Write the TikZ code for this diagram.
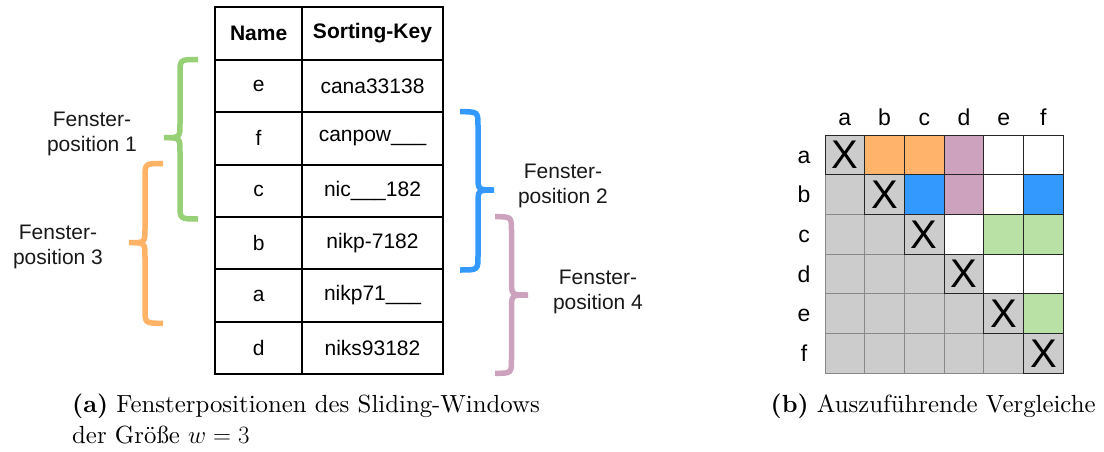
\documentclass[tikz,border=0pt]{standalone}
\usepackage{fontspec}
\newfontfamily\arial{Liberation Sans}
\newfontfamily\capfont{lmroman10-regular}[Extension=.otf, BoldFont=lmroman10-bold]
\definecolor{bGreen}{HTML}{97D077}
\definecolor{bOrange}{HTML}{FFB366}
\definecolor{bBlue}{HTML}{3399FF}
\definecolor{bPink}{HTML}{CDA2BE}
\definecolor{cOrange}{HTML}{FFB36B}
\definecolor{cGreen}{HTML}{B9E0A5}
\definecolor{cGray}{HTML}{CCCCCC}
\definecolor{gridGray}{HTML}{888888}

% curly window brace: colour, x of ends, x of spine, x of tip, y top, y tip, y bottom
\newcommand{\windowbrace}[7]{%
  \draw[wbrace, draw=#1] (#2,#5) .. controls (#3,#5) .. (#3,#5+14)
    -- (#3,#6-14) .. controls (#3,#6) .. (#4,#6)
    .. controls (#3,#6) .. (#3,#6+14)
    -- (#3,#7-14) .. controls (#3,#7) .. (#2,#7);}

\begin{document}
\begin{tikzpicture}[x=1pt,y=-1pt,
  tcell/.style={draw=black, line width=2pt, inner sep=0pt, outer sep=0pt,
    minimum height=52.4pt, font=\arial\fontsize{21}{24}\selectfont},
  namecol/.style={tcell, minimum width=87.3pt},
  keycol/.style={tcell, minimum width=140.4pt},
  head/.style={font=\arial\bfseries\fontsize{21}{24}\selectfont},
  winlabel/.style={align=center, inner sep=0pt, text=black!90,
    font=\arial\fontsize{21}{24.5}\selectfont},
  wbrace/.style={line width=5.5pt, line cap=butt},
  mcell/.style={minimum size=39.7pt, inner sep=0pt, outer sep=0pt, line width=1pt},
  lowcell/.style={mcell, fill=cGray, draw=gridGray},
  upcell/.style={mcell, draw=black!85},
  xmark/.style={font=\arial\fontsize{40}{40}\selectfont},
  mlabel/.style={anchor=base, inner sep=0pt, font=\arial\fontsize{23}{23}\selectfont},
  caption/.style={anchor=base west, inner sep=0pt, font=\capfont\fontsize{24.8}{31}\selectfont}
]
\useasboundingbox (0,0) rectangle (1104,452);

% sorted table
\node[namecol, head] (h1) at (258.65,33.5) {Name};
\node[keycol, head] (h2) at (372.5,33.5) {Sorting-Key};
\node[namecol] (n1) at (258.65,85.9) {e};
\node[keycol]  (k1) at (372.5,85.9) {cana33138};
\node[namecol] (n2) at (258.65,138.3) {f};
\node[keycol]  (k2) at (372.5,138.3) {canpow\_\_\_};
\node[namecol] (n3) at (258.65,190.7) {c};
\node[keycol]  (k3) at (372.5,190.7) {nic\_\_\_182};
\node[namecol] (n4) at (258.65,243.1) {b};
\node[keycol]  (k4) at (372.5,243.1) {nikp-7182};
\node[namecol] (n5) at (258.65,295.5) {a};
\node[keycol]  (k5) at (372.5,295.5) {nikp71\_\_\_};
\node[namecol] (n6) at (258.65,347.9) {d};
\node[keycol]  (k6) at (372.5,347.9) {niks93182};

% window positions
\windowbrace{bGreen}{198}{180}{164}{59.5}{137.7}{219}
\windowbrace{bOrange}{163}{145}{129}{163.5}{242.7}{323.3}
\windowbrace{bBlue}{460}{478}{494}{111.7}{190}{270}
\windowbrace{bPink}{495}{511.5}{528}{216.7}{295}{373.3}

\node[winlabel] (w1) at (92,134) {Fenster-\\position 1};
\node[winlabel] (w3) at (58,247) {Fenster-\\position 3};
\node[winlabel] (w2) at (563,186) {Fenster-\\position 2};
\node[winlabel] (w4) at (598,292) {Fenster-\\position 4};

% comparison matrix
\foreach \r in {1,...,5}{
  \foreach \c in {0,...,4}{
    \ifnum\c<\r
      \node[lowcell] (m-\r-\c) at ({825+39.7*(\c+0.5)},{135+39.7*(\r+0.5)}) {};
    \fi
  }
}
\foreach \r/\c/\col in {0/0/cGray,0/1/cOrange,0/2/cOrange,0/3/bPink,0/4/white,0/5/white,
  1/1/cGray,1/2/bBlue,1/3/bPink,1/4/white,1/5/bBlue,
  2/2/cGray,2/3/white,2/4/cGreen,2/5/cGreen,
  3/3/cGray,3/4/white,3/5/white,
  4/4/cGray,4/5/cGreen,
  5/5/cGray}{
  \node[upcell, fill=\col] (m-\r-\c) at ({825+39.7*(\c+0.5)},{135+39.7*(\r+0.5)}) {};
}
\foreach \i in {0,...,5}{
  \node[xmark] (x-\i) at (m-\i-\i) {X};
}
\foreach \i/\t in {0/a,1/b,2/c,3/d,4/e,5/f}{
  \node[mlabel] (col-\t) at ({825+39.7*(\i+0.5)},125) {\t};
  \node[mlabel] (row-\t) at (804,{135+39.7*(\i+0.5)+8.3}) {\t};
}

% captions
\node[caption] (capa1) at (72,412.3) {\textbf{(a)} Fensterpositionen des Sliding-Windows};
\node[caption] (capa2) at (72,443.3) {der Größe $w = 3$};
\node[caption] (capb) at (770.5,412) {\textbf{(b)} Auszuführende Vergleiche};
\end{tikzpicture}
\end{document}
